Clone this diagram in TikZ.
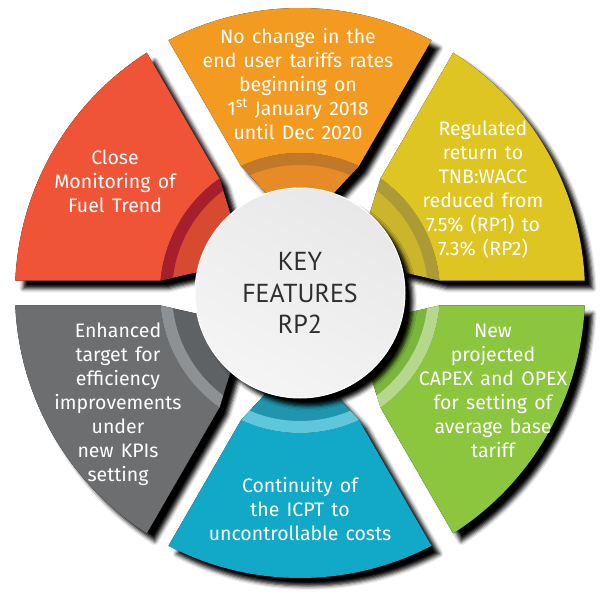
\documentclass[tikz,border=0pt]{standalone}
\usepackage{fontspec}
\setmainfont[WordSpace=1.4]{Fira Sans}
\newfontfamily\hubfont{PT Sans}
\usepackage{tikz}
\usetikzlibrary{calc,shadows.blur}
\definecolor{orM}{HTML}{F39A21}
\definecolor{orB}{HTML}{C27829}
\definecolor{orI}{HTML}{E78B27}
\definecolor{yeM}{HTML}{DFC522}
\definecolor{yeB}{HTML}{AC9A36}
\definecolor{yeI}{HTML}{CBB52A}
\definecolor{grM}{HTML}{8CC63F}
\definecolor{grB}{HTML}{B6D88C}
\definecolor{grI}{HTML}{7BB63C}
\definecolor{cyM}{HTML}{12A9C9}
\definecolor{cyB}{HTML}{60C6DA}
\definecolor{cyI}{HTML}{1F96AE}
\definecolor{gyM}{HTML}{6D6E70}
\definecolor{gyB}{HTML}{8E9193}
\definecolor{gyI}{HTML}{5F6264}
\definecolor{rdM}{HTML}{EF5436}
\definecolor{rdB}{HTML}{A61F2C}
\definecolor{rdI}{HTML}{D74A30}
\definecolor{hubtext}{HTML}{2E2E2E}

\begin{document}
\begin{tikzpicture}[x=1pt,y=1pt,
 feat/.style={align=center,text=white,inner sep=0,font=\fontsize{19.5}{24}\selectfont},
 darkshade/.style={blur shadow={shadow xshift=8pt,shadow yshift=-8pt,shadow blur radius=4pt,shadow opacity=100}}]
 \useasboundingbox (-300,-303) rectangle (309,293);
 \pgfmathsetmacro\aR{asin(12.5/285)}
 \pgfmathsetmacro\aM{asin(12.5/140)}
 \pgfmathsetmacro\aI{asin(22/100)}
 % shadows of the six pieces
 \foreach \m in {90,30,-30,-90,-150,150}{
  \fill[black,darkshade] ({\m-30+\aR}:285) arc[start angle=\m-30+\aR,end angle=\m+30-\aR,radius=285]
   -- ({\m+30-\aM}:140) -- ({\m+30-\aI}:100) arc[start angle=\m+30-\aI,end angle=\m-30+\aI,radius=100]
   -- ({\m-30+\aM}:140) -- cycle;
 }
 % the pieces
 \foreach \m/\cm/\cb/\ci in {90/orM/orB/orI,30/yeM/yeB/yeI,-30/grM/grB/grI,-90/cyM/cyB/cyI,-150/gyM/gyB/gyI,150/rdM/rdB/rdI}{
  \fill[\cm] ({\m-30+\aR}:285) arc[start angle=\m-30+\aR,end angle=\m+30-\aR,radius=285]
   -- ({\m+30-\aM}:140) arc[start angle=\m+30-\aM,end angle=\m-30+\aM,radius=140] -- cycle;
  \begin{scope}
   \clip ({\m-30+\aM}:140) arc[start angle=\m-30+\aM,end angle=\m+30-\aM,radius=140]
    -- ({\m+30-\aI}:100) arc[start angle=\m+30-\aI,end angle=\m-30+\aI,radius=100] -- cycle;
   \fill[\ci] (0,0) circle (141);
   \fill[\cb,even odd rule] (0,0) circle (141) (0,0) circle (128);
  \end{scope}
 }
 % centre
 \node[circle,minimum size=210,inner sep=0,draw=white,line width=1,darkshade,
  top color=black!9,bottom color=black!4,shading angle=-30,
  text=hubtext,align=center,font=\hubfont\fontsize{26}{31.5}\selectfont] (hub) at (0,0) {KEY\\FEATURES\\RP2};
 % texts
 \node[feat] (tariff) at (-2,209) {No change in the\\end user tariffs rates\\beginning on\\1\textsuperscript{st} January 2018\\until Dec 2020};
 \node[feat] (wacc) at (183,103) {Regulated\\return to\\TNB:WACC\\reduced from\\7.5\% (RP1) to\\7.3\% (RP2)};
 \node[feat] (capex) at (193,-98) {New\\projected\\CAPEX and OPEX\\for setting of\\average base\\tariff};
 \node[feat] (icpt) at (0,-216) {Continuity of\\the ICPT to\\uncontrollable costs};
 \node[feat] (kpi) at (-182,-111) {Enhanced\\target for\\efficiency\\improvements\\under\\new KPIs\\setting};
 \node[feat] (fuel) at (-185,112) {Close\\Monitoring of\\Fuel Trend};
\end{tikzpicture}
\end{document}
